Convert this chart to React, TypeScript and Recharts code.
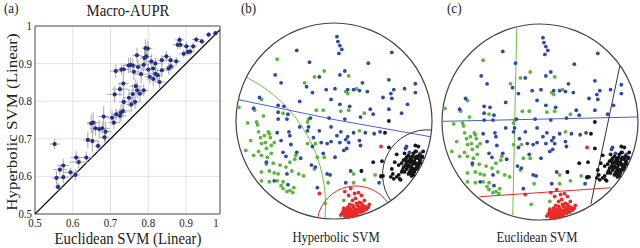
import React from "react";
import {
  ScatterChart,
  Scatter,
  XAxis,
  YAxis,
  CartesianGrid,
  ErrorBar,
  ReferenceLine,
  ReferenceArea,
  ReferenceDot,
} from "recharts";

// ---- panel (a): Macro-AUPR, one point per dataset ----
const euclideanAupr = [
  0.552, 0.561, 0.557, 0.575, 0.575, 0.566, 0.607, 0.594, 0.609, 0.616, 0.636, 0.64, 0.652, 0.667,
  0.649, 0.654, 0.66, 0.67, 0.678, 0.684, 0.687, 0.682, 0.704, 0.715, 0.725, 0.728, 0.709, 0.735,
  0.733, 0.749, 0.755, 0.759, 0.765, 0.771, 0.778, 0.767, 0.788, 0.725, 0.711, 0.734, 0.729, 0.735,
  0.748, 0.759, 0.762, 0.77, 0.781, 0.788, 0.79, 0.795, 0.793, 0.799, 0.8, 0.808, 0.813, 0.819,
  0.819, 0.825, 0.813, 0.83, 0.836, 0.836, 0.848, 0.854, 0.86, 0.859, 0.874, 0.883, 0.878, 0.885,
  0.894, 0.901, 0.911, 0.905, 0.927, 0.919, 0.942, 0.96, 0.978, 0.773, 0.804, 0.714, 0.753,
];
const hyperbolicAupr = [
  0.686, 0.572, 0.596, 0.598, 0.629, 0.618, 0.604, 0.611, 0.65, 0.638, 0.65, 0.697, 0.694, 0.681,
  0.741, 0.743, 0.728, 0.726, 0.728, 0.704, 0.719, 0.759, 0.756, 0.765, 0.761, 0.77, 0.743, 0.798,
  0.774, 0.809, 0.791, 0.819, 0.798, 0.829, 0.82, 0.84, 0.829, 0.832, 0.818, 0.847, 0.884, 0.885,
  0.895, 0.895, 0.878, 0.922, 0.872, 0.897, 0.915, 0.919, 0.941, 0.94, 0.884, 0.906, 0.887, 0.9,
  0.873, 0.869, 0.859, 0.851, 0.909, 0.882, 0.919, 0.887, 0.893, 0.909, 0.906, 0.963, 0.95, 0.95,
  0.926, 0.946, 0.932, 0.931, 0.964, 0.946, 0.959, 0.977, 0.981, 0.891, 0.865, 0.88, 0.897,
];
const euclideanErr = [
  0.014, 0.01, 0.012, 0.015, 0.016, 0.018, 0.012, 0.02, 0.014, 0.024, 0.016, 0.012, 0.016, 0.01,
  0.012, 0.015, 0.014, 0.018, 0.02, 0.012, 0.016, 0.014, 0.015, 0.012, 0.018, 0.014, 0.016, 0.012,
  0.02, 0.016, 0.014, 0.012, 0.015, 0.018, 0.014, 0.016, 0.012, 0.022, 0.02, 0.014, 0.018, 0.016,
  0.012, 0.014, 0.016, 0.012, 0.018, 0.014, 0.012, 0.014, 0.01, 0.012, 0.016, 0.014, 0.012, 0.016,
  0.014, 0.012, 0.018, 0.014, 0.012, 0.016, 0.012, 0.014, 0.012, 0.01, 0.012, 0.012, 0.014, 0.01,
  0.012, 0.01, 0.012, 0.01, 0.012, 0.01, 0.01, 0.008, 0.006, 0.016, 0.014, 0.016, 0.014,
];
const hyperbolicErr = [
  0.014, 0.012, 0.018, 0.016, 0.018, 0.014, 0.015, 0.012, 0.018, 0.016, 0.016, 0.022, 0.03, 0.015,
  0.024, 0.028, 0.02, 0.025, 0.018, 0.016, 0.026, 0.028, 0.02, 0.016, 0.02, 0.022, 0.018, 0.03,
  0.018, 0.024, 0.02, 0.026, 0.018, 0.022, 0.02, 0.018, 0.016, 0.018, 0.022, 0.024, 0.014, 0.016,
  0.02, 0.018, 0.022, 0.02, 0.024, 0.02, 0.026, 0.022, 0.024, 0.02, 0.018, 0.02, 0.018, 0.016,
  0.02, 0.016, 0.02, 0.016, 0.014, 0.018, 0.014, 0.016, 0.014, 0.012, 0.012, 0.01, 0.012, 0.01,
  0.01, 0.012, 0.01, 0.01, 0.008, 0.01, 0.008, 0.006, 0.006, 0.02, 0.018, 0.018, 0.02,
];
const xTicks = [0.5, 0.6, 0.7, 0.8, 0.9, 0.99];
const yTicks = [0.5, 0.6, 0.7, 0.8, 0.9, 1];

// ---- panels (b) and (c): embedding in the unit disk (radius = 100) ----
const bluePoints = [
  [3, 86], [4, 81], [6, 77], [8, 73], [5, 69], [-38, 72], [59, 70], [-25, 60], [35, 59], [11, 51],
  [-60, 47], [-15, 45], [-28, 35], [-54, 39], [56, 42], [29, 39], [83, 38], [-22, 29], [-8, 32],
  [1, 33], [14, 32], [20, 32], [34, 30], [61, 32], [72, 33], [83, 29], [50, 24], [59, 23], [-76, 24],
  [-35, 20], [-3, 22], [16, 15], [-51, 15], [-57, 16], [-82, 13], [6, 17], [-57, 9], [37, 12],
  [56, 12], [75, 17], [-47, 7], [-24, 3], [-48, 2], [-57, 2], [-5, 3], [11, 2], [27, 4], [-35, -6],
  [-26, -6], [-3, -6], [-15, -10], [7, -11], [32, -12], [41, -13], [47, -11], [20, -12], [-45, -15],
  [-58, -12], [-54, -20], [-21, -17], [-13, -22], [-3, -21], [6, -22], [12, -19], [13, -28],
  [-52, -32], [-38, -32], [-49, -36], [-34, -38], [-11, -33], [1, -37], [-69, -42], [-23, -45],
  [-48, -54], [-7, -54], [-4, -55], [17, -51], [28, -51], [46, -63], [-61, -61], [-47, -65],
  [12, -63], [14, -16], [15, -22], [10, -30], [26, -20], [27, -25], [48, -57], [73, -28], [77, -32],
  [6, 47], [26, 31], [58, 28], [40, 7], [69, 8], [74, -26], [84, -31], [88, -33], [3, -15],
  [-46, -11], [-44, -24], [-27, -10], [-22, -26], [-7, -23], [-19, -47], [-17, -68],
];
const greenPoints = [
  [-58, 63], [-10, 51], [15, 46], [-20, 45], [-30, 39], [12, 30], [14, 28], [23, 33], [-74, 22],
  [-97, 14], [-18, 11], [-11, 11], [-81, 11], [15, 11], [7, 10], [31, 8], [-72, 5], [-26, 2],
  [-88, -2], [-78, -4], [26, -10], [-67, -11], [-71, -15], [-75, -17], [-65, -17], [-77, -11],
  [-85, -20], [-70, -22], [-61, -22], [-19, -23], [-90, -30], [-77, -31], [-69, -28], [-64, -33],
  [-74, -35], [-82, -35], [-39, -35], [-40, -39], [-62, -43], [-55, -45], [-45, -42], [-20, -49],
  [-74, -52], [-66, -51], [-61, -53], [-57, -54], [-43, -51], [-36, -54], [-31, -56], [20, -54],
  [42, -55], [-58, -61], [-52, -62], [-52, -69], [-45, -71], [-42, -73], [-6, -63], [-9, -84],
  [-66, -13], [-74, -23], [-64, -25], [-68, -37], [-69, -44], [-49, -47], [-66, -62], [-74, -61],
  [-54, -66], [-48, -72], [-41, -68], [-27, -23], [-17, -37], [-10, -37], [-52, 8], [-79, -1],
  [-27, -1], [31, -60], [20, -63], [10, -81],
];
const redPoints = [
  [48, -26], [-15, -74], [15, -76], [17, -69], [21, -74], [25, -73], [28, -76], [22, -79], [19, -81],
  [26, -83], [31, -81], [24, -86], [16, -85], [14, -88], [36, -85], [33, -88], [11, -72], [11, -95],
  [14, -96], [17, -96], [20, -95], [24, -94], [27, -93], [30, -92], [33, -90], [12, -92], [15, -92],
  [18, -92], [21, -91], [25, -90], [28, -89], [10, -89], [13, -94], [16, -94], [19, -93], [22, -92],
  [26, -92], [29, -91], [9, -93], [16, -89], [20, -88], [29, -86], [7, -96], [18, -97], [14, -98],
  [23, -96], [11, -97], [12, -94], [15, -95], [18, -94], [21, -93], [24, -92], [27, -91], [13, -91],
  [17, -90], [22, -90], [26, -88], [19, -86], [23, -84], [28, -84], [31, -87], [15, -98], [20, -97],
  [10, -91], [8, -95], [35, -88], [30, -89],
];
const blackPoints = [
  [56, 0], [52, -12], [56, -27], [40, -42], [49, -41], [28, -51], [48, -56], [50, -56], [58, -57],
  [68, -60], [60, -54], [64, -34], [83, -25], [86, -26], [72, -33], [76, -35], [79, -37], [81, -33],
  [83, -38], [86, -38], [90, -37], [88, -40], [87, -42], [85, -46], [84, -49], [82, -52], [78, -50],
  [74, -49], [71, -47], [69, -43], [71, -40], [74, -42], [78, -42], [81, -43], [84, -45], [85, -48],
  [83, -49], [79, -47], [76, -45], [72, -52], [76, -54], [69, -52], [66, -55], [64, -57], [67, -59],
  [61, -59], [59, -49], [62, -42], [66, -45], [91, -31], [90, -36], [88, -43], [79, -40], [78, -38],
  [74, -37], [79, -56], [81, -55], [80, -44], [82, -41], [77, -46], [80, -48], [83, -43], [78, -39],
  [75, -47], [81, -50], [86, -44], [73, -45], [77, -52], [84, -36], [80, -36], [76, -41], [73, -39],
  [79, -53], [87, -35], [70, -50], [83, -31], [86, -46],
];

// geodesic arcs (hyperbolic SVM): endpoints on the boundary, arc radius in disk units
const hyperbolicBoundaries = [
  { color: "#6cc24a", from: [-89.5, 44.7], to: [-9.2, -99.6], radius: 146.3, sweep: 1 },
  { color: "#4a64bd", from: [-97.6, 21.8], to: [98.7, -16.1], radius: 3437, sweep: 0 },
  { color: "#e8282a", from: [54.9, -83.6], to: [-16.6, -98.6], radius: 39.5, sweep: 0 },
  { color: "#333333", from: [99.6, -9.2], to: [58.1, -81.4], radius: 45.8, sweep: 0 },
];
// straight hyperplanes (Euclidean SVM)
const euclideanBoundaries = [
  { color: "#6cc24a", from: [-23.7, 96.3], to: [-27.8, -94.9] },
  { color: "#4a64bd", from: [-99, 0.7], to: [99.7, 5.1] },
  { color: "#e8282a", from: [-62, -76.3], to: [72.2, -67.1] },
  { color: "#333333", from: [81.4, 57], to: [51.9, -83.7] },
];

const FONT = '"Liberation Serif", "Times New Roman", serif';
const SQUEEZE = 0.87;

const auprData = euclideanAupr.map((x, i) => ({
  x,
  y: hyperbolicAupr[i],
  ex: euclideanErr[i],
  ey: hyperbolicErr[i],
}));

const toXY = (pts: number[][]) => pts.map(([x, y]) => ({ x, y }));

function Label({ x, y, size, anchor = "middle", rotate = false, children }: any) {
  return (
    <text
      transform={`translate(${x},${y}) scale(${SQUEEZE},1)${rotate ? " rotate(-90)" : ""}`}
      textAnchor={anchor}
      fontFamily={FONT}
      fontSize={size}
      fill="#222"
    >
      {children}
    </text>
  );
}

function AuprPanel() {
  return (
    <div style={{ position: "absolute", left: 0, top: 0 }}>
      <ScatterChart width={230} height={248} margin={{ top: 26, right: 10, bottom: 0, left: 0 }}>
        <CartesianGrid stroke="#e2e2e2" />
        <XAxis
          type="number"
          dataKey="x"
          domain={[0.5, 0.99]}
          ticks={xTicks}
          height={34}
          axisLine={false}
          tickLine={false}
          tickSize={0}
          tickMargin={0}
          tick={({ x, y, payload }: any) => (
            <Label x={x} y={y + 13} size={12.5}>
              {payload.value > 0.95 ? "1" : String(payload.value)}
            </Label>
          )}
        />
        <YAxis
          type="number"
          dataKey="y"
          domain={[0.5, 1]}
          ticks={yTicks}
          width={35}
          axisLine={false}
          tickLine={false}
          tickSize={0}
          tickMargin={0}
          tick={({ x, y, payload }: any) => (
            <Label x={x - 3} y={y + 4} size={12.5} anchor="end">
              {String(payload.value)}
            </Label>
          )}
        />
        <ReferenceArea x1={0.5} x2={0.99} y1={0.5} y2={1} fill="none" fillOpacity={0} stroke="#555" strokeWidth={1} />
        <ReferenceLine
          segment={[{ x: 0.5, y: 0.5 }, { x: 0.99, y: 0.99 }]}
          stroke="#111"
          strokeWidth={1.2}
        />
        <Scatter
          data={auprData}
          isAnimationActive={false}
          shape={(p: any) => <circle cx={p.cx} cy={p.cy} r={2.1} fill="#24318a" />}
        >
          <ErrorBar dataKey="ex" direction="x" width={0} stroke="#a8a8a8" strokeWidth={1} isAnimationActive={false} />
          <ErrorBar dataKey="ey" direction="y" width={0} stroke="#a8a8a8" strokeWidth={1} isAnimationActive={false} />
        </Scatter>
      </ScatterChart>
    </div>
  );
}

function arcShape(b: any) {
  return (p: any) => {
    const dPx = Math.hypot(p.x2 - p.x1, p.y2 - p.y1);
    const dData = Math.hypot(b.to[0] - b.from[0], b.to[1] - b.from[1]);
    const r = (b.radius * dPx) / dData;
    return (
      <path
        d={`M${p.x1},${p.y1} A${r},${r} 0 0 ${b.sweep} ${p.x2},${p.y2}`}
        fill="none"
        stroke={b.color}
        strokeWidth={1}
      />
    );
  };
}

function DiskPanel({ left, top, boundaries, curved }: any) {
  const size = 196;
  const pad = 5;
  return (
    <div style={{ position: "absolute", left, top }}>
      <ScatterChart width={size + 2 * pad} height={size + 2 * pad} margin={{ top: pad, right: pad, bottom: pad, left: pad }}>
        <XAxis type="number" dataKey="x" domain={[-100, 100]} hide />
        <YAxis type="number" dataKey="y" domain={[-100, 100]} hide />
        <ReferenceDot x={0} y={0} r={size / 2} fill="none" stroke="#444" strokeWidth={1.2} />
        {boundaries.map((b: any, i: number) => (
          <ReferenceLine
            key={i}
            segment={[{ x: b.from[0], y: b.from[1] }, { x: b.to[0], y: b.to[1] }]}
            stroke={b.color}
            strokeWidth={1}
            ifOverflow="visible"
            shape={curved ? arcShape(b) : undefined}
          />
        ))}
        {[
          { pts: greenPoints, color: "#5cb63e" },
          { pts: bluePoints, color: "#2f4aa8" },
          { pts: blackPoints, color: "#151515" },
          { pts: redPoints, color: "#ea2a2a" },
        ].map((s, i) => (
          <Scatter
            key={i}
            data={toXY(s.pts)}
            isAnimationActive={false}
            shape={(p: any) => <circle cx={p.cx} cy={p.cy} r={1.9} fill={s.color} />}
          />
        ))}
      </ScatterChart>
    </div>
  );
}

export default function App() {
  return (
    <div
      style={{
        position: "absolute",
        left: 0,
        top: 0,
        width: 640,
        height: 248,
        background: "#fff",
        overflow: "hidden",
      }}
    >
      <AuprPanel />
      <DiskPanel left={231} top={17.5} boundaries={hyperbolicBoundaries} curved />
      <DiskPanel left={437} top={18.7} boundaries={euclideanBoundaries} curved={false} />
      <svg width={640} height={248} style={{ position: "absolute", left: 0, top: 0, pointerEvents: "none" }}>
        <Label x={4} y={13} size={15} anchor="start">(a)</Label>
        <Label x={128} y={16} size={17}>Macro-AUPR</Label>
        <Label x={128} y={244} size={17}>Euclidean SVM (Linear)</Label>
        <Label x={16.5} y={122} size={17} rotate>Hyperbolic SVM (Linear)</Label>
        <Label x={241} y={13} size={15} anchor="start">(b)</Label>
        <Label x={336} y={242} size={14.5}>Hyperbolic SVM</Label>
        <Label x={447} y={13} size={15} anchor="start">(c)</Label>
        <Label x={537} y={242} size={14.5}>Euclidean SVM</Label>
      </svg>
    </div>
  );
}
